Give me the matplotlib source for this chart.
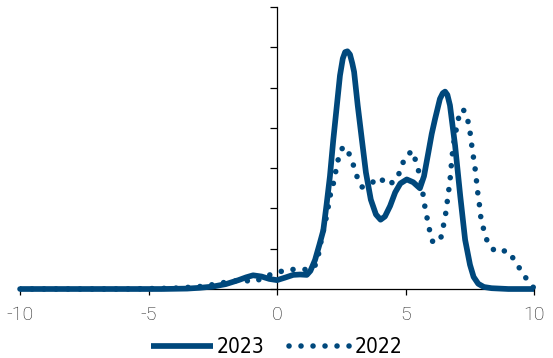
import matplotlib.pyplot as plt

# 2023 curve (solid)
x_2023 = [-10, -4.5, -3.5, -3.0, -2.5, -2.0, -1.5, -1.2, -0.93, -0.6, -0.3, 0.0, 0.3,
          0.63, 0.9, 1.16, 1.3, 1.48, 1.65, 1.8, 1.93, 2.06, 2.19, 2.32, 2.45, 2.56,
          2.65, 2.74, 2.84, 2.93, 3.0, 3.14, 3.3, 3.46, 3.65, 3.85, 4.03, 4.2, 4.4,
          4.6, 4.8, 5.05, 5.3, 5.56, 5.72, 5.89, 6.02, 6.15, 6.34, 6.45, 6.54, 6.63,
          6.73, 6.93, 7.13, 7.32, 7.51, 7.65, 7.83, 8.05, 8.35, 9.0, 10.0]
y_2023 = [0, 0, 0.01, 0.03, 0.06, 0.12, 0.22, 0.29, 0.34, 0.31, 0.25, 0.22, 0.28,
          0.35, 0.36, 0.35, 0.45, 0.72, 1.1, 1.45, 2.1, 2.8, 3.7, 4.5, 5.3, 5.72,
          5.88, 5.9, 5.82, 5.6, 5.39, 4.56, 3.72, 2.89, 2.22, 1.85, 1.72, 1.8, 2.06,
          2.4, 2.62, 2.72, 2.65, 2.5, 2.8, 3.39, 3.85, 4.22, 4.72, 4.86, 4.9, 4.82,
          4.56, 3.56, 2.31, 1.22, 0.6, 0.3, 0.13, 0.05, 0.02, 0.0, 0.0]

# 2022 curve (dotted)
x_2022 = [-10, -6, -5, -4, -3.2, -2.7, -2.3, -1.83, -1.44, -1.1, -0.86, -0.47, -0.04,
          0.4, 0.84, 1.28, 1.45, 1.56, 1.74, 1.93, 2.09, 2.22, 2.3, 2.4, 2.57, 2.81,
          2.97, 3.1, 3.3, 3.62, 3.97, 4.33, 4.66, 4.82, 4.98, 5.26, 5.41, 5.53, 5.63,
          5.69, 5.76, 5.85, 5.94, 6.06, 6.2, 6.37, 6.46, 6.55, 6.61, 6.67, 6.73, 6.77,
          6.81, 6.86, 6.94, 7.03, 7.13, 7.25, 7.38, 7.48, 7.55, 7.6, 7.68, 7.73, 7.78,
          7.83, 7.9, 7.94, 8.07, 8.2, 8.49, 8.7, 8.94, 9.22, 9.46, 9.72, 10.0]
y_2022 = [0, 0, 0.01, 0.02, 0.05, 0.08, 0.14, 0.18, 0.22, 0.2, 0.18, 0.31, 0.4,
          0.48, 0.49, 0.48, 0.55, 0.68, 1.27, 1.81, 2.39, 2.68, 2.97, 3.27, 3.54, 3.35,
          3.08, 2.81, 2.53, 2.6, 2.77, 2.58, 2.72, 2.99, 3.27, 3.43, 3.16, 2.88, 2.6,
          2.31, 2.02, 1.73, 1.45, 1.17, 1.15, 1.25, 1.52, 1.81, 2.1, 2.39, 2.68, 2.98,
          3.27, 3.56, 3.85, 4.14, 4.43, 4.45, 4.31, 4.02, 3.73, 3.43, 3.14, 2.87, 2.58,
          2.28, 1.99, 1.71, 1.42, 1.14, 0.93, 0.92, 0.96, 0.74, 0.49, 0.24, 0.02]

x_ticks = [-10, -5, 0, 5, 10]
y_ticks = [0, 1, 2, 3, 4, 5, 6, 7]

color = '#00487C'

fig = plt.figure(figsize=(5.53, 3.58), dpi=100)
ax = fig.add_axes([20 / 553, 1 - 289 / 358, 514 / 553, 282 / 358])

ax.plot(x_2023, y_2023, color=color, lw=4.1, label='2023',
        solid_capstyle='butt', solid_joinstyle='round', clip_on=False, zorder=3)
ax.plot(x_2022, y_2022, color=color, lw=4.0, linestyle=(0, (0.01, 2.15)),
        dash_capstyle='round', label='2022', clip_on=False, zorder=3)

ax.set_xlim(-10, 10)
ax.set_ylim(0, 7)
ax.set_xticks(x_ticks)
ax.set_xticklabels([str(t) for t in x_ticks], fontfamily=['Roboto', 'DejaVu Sans'],
                   fontweight='light', fontsize=14, color='#222222')
ax.set_yticks(y_ticks)
ax.set_yticklabels([])

ax.spines['left'].set_position(('data', 0))
ax.spines['right'].set_visible(False)
ax.spines['top'].set_visible(False)
for s in ('left', 'bottom'):
    ax.spines[s].set_linewidth(0.9)
ax.tick_params(axis='x', direction='out', length=4, width=0.9, pad=8)
ax.tick_params(axis='y', direction='out', length=5, width=0.9)

fig.legend(loc='center', bbox_to_anchor=(0.5, 0.031), ncol=2, frameon=False,
           prop={'family': ['DejaVu Sans'], 'stretch': 'condensed',
                 'weight': 'light', 'size': 15},
           handlelength=3.0, handletextpad=0.15, columnspacing=1.2, borderpad=0)

fig.savefig('out.png', dpi=100)
